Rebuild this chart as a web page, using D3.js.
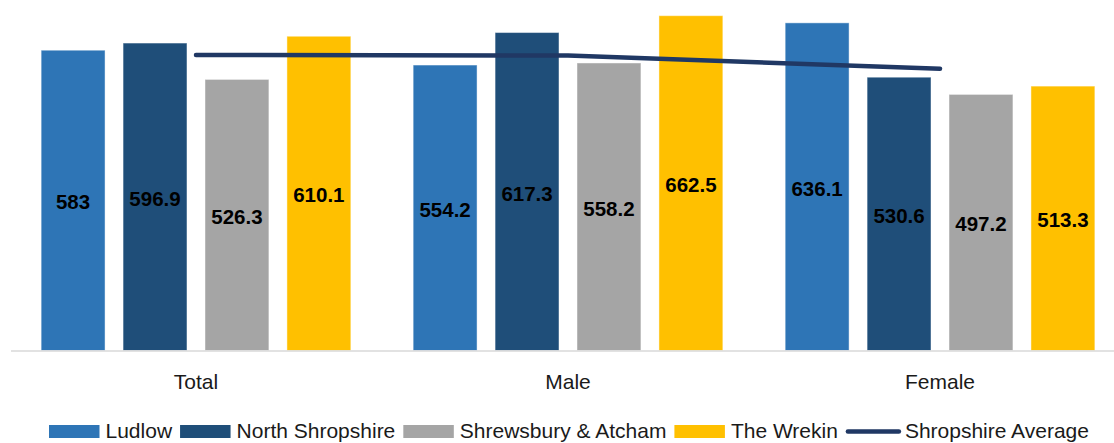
<!DOCTYPE html>
<html>
<head>
<meta charset="utf-8">
<script src="https://cdn.jsdelivr.net/npm/d3@7"></script>
<style>
  body { margin: 0; background: #fff; }
  text { font-family: "Liberation Sans", Arial, sans-serif; }
</style>
</head>
<body>
<svg id="chart" width="1114" height="443"></svg>
<script>
// data
var categories = ['Total', 'Male', 'Female'];
var series = ['Ludlow', 'North Shropshire', 'Shrewsbury & Atcham', 'The Wrekin'];
var colors = ['#2e75b6', '#1f4e79', '#a5a5a5', '#ffc000'];
var ludlow = [583, 554.2, 636.1];
var northShropshire = [596.9, 617.3, 530.6];
var shrewsbury = [526.3, 558.2, 497.2];
var wrekin = [610.1, 662.5, 513.3];
var shropshireAverage = [573.8, 572.5, 547.2];
var lineName = 'Shropshire Average';
var lineColor = '#203864';

var values = [ludlow, northShropshire, shrewsbury, wrekin];

var svg = d3.select('#chart');

var x0 = d3.scaleBand()
  .domain(categories)
  .range([10, 1126])
  .paddingInner(0.1675)
  .paddingOuter(0.0837);

var x1 = d3.scaleBand()
  .domain(series)
  .range([0, x0.bandwidth()])
  .paddingInner(0.22)
  .paddingOuter(0);

var y = d3.scaleLinear()
  .domain([0, 650])
  .range([350.5, 15.7])
  .clamp(true);

// bars
var bars = [];
categories.forEach(function (c, ci) {
  series.forEach(function (s, si) {
    bars.push({ cat: c, name: s, value: values[si][ci], color: colors[si] });
  });
});

var g = svg.append('g');

g.selectAll('rect.bar')
  .data(bars)
  .enter()
  .append('rect')
  .attr('class', 'bar')
  .attr('x', d => x0(d.cat) + x1(d.name))
  .attr('y', d => y(d.value))
  .attr('width', x1.bandwidth())
  .attr('height', d => y(0) - y(d.value))
  .attr('fill', d => d.color)
  .attr('stroke', 'rgba(255,255,255,0.45)')
  .attr('stroke-width', 1);

// axis baseline
svg.append('line')
  .attr('x1', 11).attr('x2', 1114)
  .attr('y1', y(0) + 0.5).attr('y2', y(0) + 0.5)
  .attr('stroke', '#d9d9d9')
  .attr('stroke-width', 1.5);

// data labels, centred in the drawn bar
g.selectAll('text.val')
  .data(bars)
  .enter()
  .append('text')
  .attr('class', 'val')
  .attr('x', d => x0(d.cat) + x1(d.name) + x1.bandwidth() / 2)
  .attr('y', d => (y(d.value) + y(0)) / 2 + 9)
  .attr('text-anchor', 'middle')
  .attr('font-size', 20.5)
  .attr('font-weight', 'bold')
  .attr('fill', '#000')
  .text(d => d.value);

// average line
var line = d3.line()
  .x((d, i) => x0(categories[i]) + x0.bandwidth() / 2)
  .y(d => y(d));

svg.append('path')
  .datum(shropshireAverage)
  .attr('d', line)
  .attr('fill', 'none')
  .attr('stroke', lineColor)
  .attr('stroke-width', 4.5)
  .attr('stroke-linecap', 'round')
  .attr('stroke-linejoin', 'round');

// category labels
svg.selectAll('text.cat')
  .data(categories)
  .enter()
  .append('text')
  .attr('class', 'cat')
  .attr('x', d => x0(d) + x0.bandwidth() / 2)
  .attr('y', 389)
  .attr('text-anchor', 'middle')
  .attr('font-size', 21)
  .attr('fill', '#1a1a1a')
  .text(d => d);

// legend
var legend = svg.append('g');
var lx = 49;
var items = series.map((s, i) => ({ name: s, color: colors[i], type: 'rect' }))
  .concat([{ name: lineName, color: lineColor, type: 'line' }]);

items.forEach(function (it) {
  if (it.type === 'rect') {
    legend.append('rect')
      .attr('x', lx).attr('y', 425)
      .attr('width', 50.5).attr('height', 13)
      .attr('fill', it.color);
  } else {
    legend.append('line')
      .attr('x1', lx + 2).attr('x2', lx + 53)
      .attr('y1', 431.5).attr('y2', 431.5)
      .attr('stroke', it.color)
      .attr('stroke-width', 4.5)
      .attr('stroke-linecap', 'round');
  }
  var off = it.type === 'rect' ? 56.5 : 59;
  var t = legend.append('text')
    .attr('x', lx + off)
    .attr('y', 438)
    .attr('font-size', 21)
    .attr('fill', '#1a1a1a')
    .text(it.name);
  lx = lx + off + t.node().getComputedTextLength() + 8;
});
</script>
</body>
</html>
